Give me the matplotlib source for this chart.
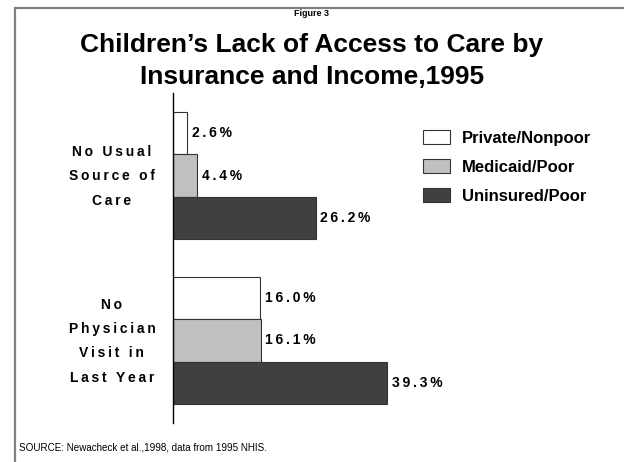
import matplotlib.pyplot as plt
import matplotlib.transforms as mtransforms
import numpy as np
from matplotlib.lines import Line2D

plt.rcParams['font.family'] = ['Liberation Sans', 'DejaVu Sans']

# data
categories = ['No Usual\nSource of\nCare', 'No\nPhysician\nVisit in\nLast Year']
series = ['Private/Nonpoor', 'Medicaid/Poor', 'Uninsured/Poor']
values = [[2.6, 16.0], [4.4, 16.1], [26.2, 39.3]]
colors = ['#ffffff', '#c0c0c0', '#404040']


def spaced(s):
    # the original uses wide letter spacing; imitate with thin spaces
    return '\n'.join('\u2009'.join(line) for line in s.split('\n'))


fig = plt.figure(figsize=(6.24, 4.62), dpi=100)
ax = fig.add_axes([173 / 624, 39 / 462, 427 / 624, 330 / 462])

h = 0.255
y = np.arange(len(categories))
for i, (name, vals) in enumerate(zip(series, values)):
    pos = y + (i - 1) * h
    ax.barh(pos, vals, height=h, color=colors[i], edgecolor='#333333',
            linewidth=0.8, label=name)
    for p, v in zip(pos, vals):
        ax.text(v + 0.9, p, spaced('%.1f%%' % v), va='center', ha='left',
                fontsize=10, fontweight='bold')

ax.set_xlim(0, 78.5)
ax.set_ylim(1.5, -0.5)
for s in ['top', 'right', 'bottom']:
    ax.spines[s].set_visible(False)
ax.spines['left'].set_linewidth(1)
ax.set_xticks([])
ax.set_yticks(y)
ax.set_yticklabels([spaced(c) for c in categories], fontsize=10,
                   fontweight='bold', linespacing=1.95, ha='center')
ax.tick_params(axis='y', length=0, pad=44)
up = mtransforms.ScaledTranslation(0, 6 / 100, fig.dpi_scale_trans)
for lab in ax.get_yticklabels():
    lab.set_transform(lab.get_transform() + up)

leg = ax.legend(loc='upper left', bbox_to_anchor=(408 / 624, 1 - 115 / 462),
                bbox_transform=fig.transFigure, frameon=False,
                handlelength=1.62, handleheight=0.91,
                labelspacing=0.8, handletextpad=0.72,
                prop={'weight': 'bold', 'size': 12})

fig.text(0.5, 1 - 14 / 462, 'Figure 3', ha='center', va='center',
         fontsize=6.5, fontweight='bold')
fig.text(0.5, 1 - 45 / 462, 'Children\u2019s Lack of Access to Care by',
         ha='center', va='center', fontsize=19, fontweight='bold')
fig.text(0.5, 1 - 77 / 462, 'Insurance and Income,1995',
         ha='center', va='center', fontsize=19, fontweight='bold')
fig.text(19 / 624, 1 - 448 / 462,
         'SOURCE: Newacheck et al.,1998, data from 1995 NHIS.',
         ha='left', va='center', fontsize=7.1)

# partial frame
fig.add_artist(Line2D([15 / 624, 1], [1 - 8 / 462, 1 - 8 / 462],
                      color='#808080', linewidth=1.6))
fig.add_artist(Line2D([15 / 624, 15 / 624], [0, 1 - 8 / 462],
                      color='#808080', linewidth=1.6))

fig.savefig('out.png', dpi=100)
